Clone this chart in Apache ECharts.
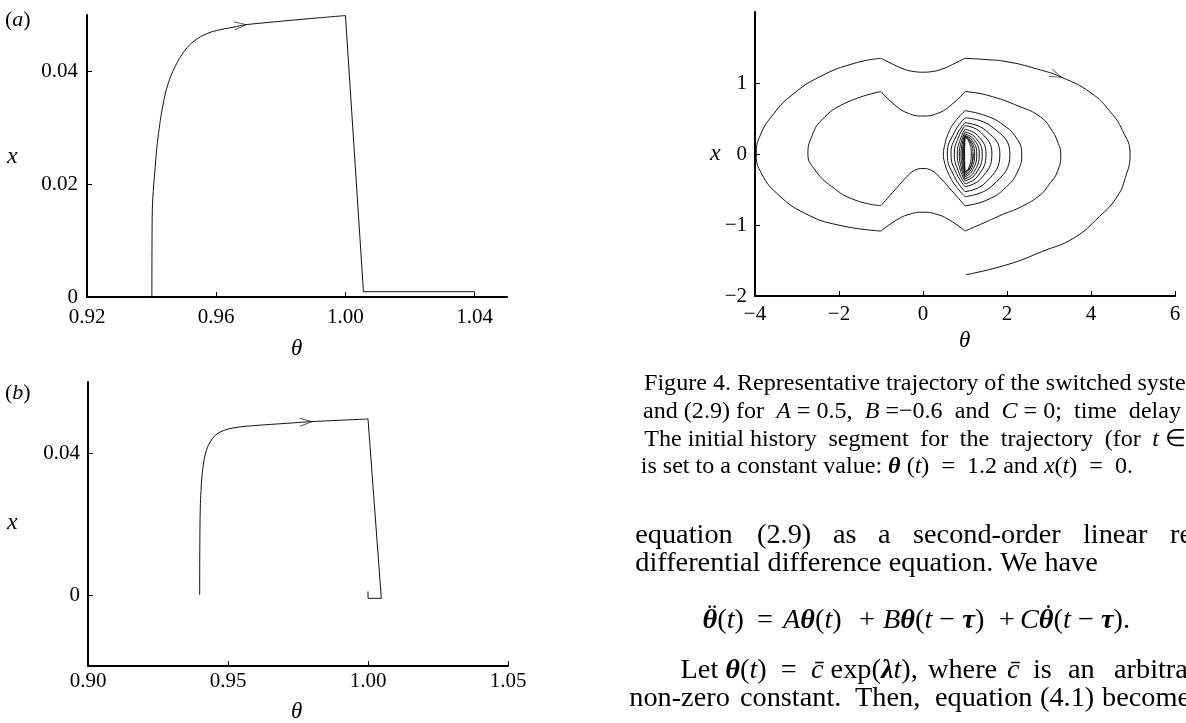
<!DOCTYPE html>
<html>
<head>
<meta charset="utf-8">
<style>
html, body { margin: 0; padding: 0; background: #fff; }
#main { width: 1186px; height: 723px; }
</style>
<script src="https://cdn.jsdelivr.net/npm/echarts@6/dist/echarts.min.js"></script>
</head>
<body>
<div id="main"></div>
<script>
// ---- panel (a) ----
var thetaA  = [0.94008, 0.94018, 0.94111, 0.94214, 0.94378, 0.94512, 0.94718, 0.95027, 0.95336, 0.95696, 0.96005, 0.96520, 0.96932, 1.00000];
var xA      = [0, 0.01425, 0.02309, 0.02898, 0.03487, 0.03782, 0.04076, 0.04370, 0.04547, 0.04665, 0.04724, 0.04783, 0.04830, 0.04990];
var thetaA2 = [1.00000, 1.00556, 1.04000];
var xA2     = [0.04990, 0.00094, 0.00094];
var arrowA  = [0.96932, 0.04830];

// ---- panel (b) ----
var thetaB  = [0.93988, 0.94000, 0.94036, 0.94107, 0.94226, 0.94393, 0.94607, 0.94905, 0.95321, 0.95917, 0.96750, 0.98000, 1.00000];
var xB      = [0, 0.02000, 0.02939, 0.03596, 0.04066, 0.04347, 0.04535, 0.04648, 0.04723, 0.04770, 0.04817, 0.04883, 0.04958];
var thetaB2 = [1.00000, 1.00476, 1.00000, 1.00000];
var xB2     = [0.04958, -0.00094, -0.00094, 0.00103];
var arrowB  = [0.98000, 0.04883];

// ---- figure 4 trajectory, pieces between switching points [theta, x] ----
var startArc = [[1.20, 0], [1.17, -0.12], [1.10, -0.21], [1, -0.25]];
var lensLeft1 = [[1, -0.25], [0.994, -0.15], [0.99, 0], [0.994, 0.144], [1, 0.24]];
var lensRight1 = [[1, 0.24], [1.09, 0.18], [1.15, 0], [1.09, -0.195], [1, -0.26]];
var lensLeft2 = [[1, -0.26], [0.985, -0.156], [0.975, 0], [0.985, 0.147], [1, 0.245]];
var lensRight2 = [[1, 0.245], [1.114, 0.184], [1.19, 0], [1.114, -0.21], [1, -0.28]];
var lensLeft3 = [[1, -0.28], [0.976, -0.168], [0.96, 0], [0.976, 0.15], [1, 0.25]];
var lensRight3 = [[1, 0.25], [1.138, 0.188], [1.23, 0], [1.138, -0.225], [1, -0.30]];
var lensLeft4 = [[1, -0.30], [0.962, -0.18], [0.937, 0], [0.962, 0.156], [1, 0.26]];
var lensRight4 = [[1, 0.26], [1.168, 0.195], [1.28, 0], [1.168, -0.24], [1, -0.32]];
var lensLeft5 = [[1, -0.32], [0.943, -0.192], [0.905, 0], [0.943, 0.168], [1, 0.28]];
var lensRight5 = [[1, 0.28], [1.204, 0.21], [1.34, 0], [1.204, -0.263], [1, -0.35]];
var lensLeft6 = [[1, -0.35], [0.919, -0.21], [0.865, 0], [0.919, 0.186], [1, 0.31]];
var lensRight6 = [[1, 0.31], [1.246, 0.233], [1.41, 0], [1.246, -0.285], [1, -0.38]];
var lensLeft7 = [[1, -0.38], [0.89, -0.228], [0.817, 0], [0.89, 0.208], [1, 0.347]];
var lensRight7 = [[1, 0.347], [1.30, 0.26], [1.50, 0], [1.30, -0.315], [1, -0.42]];
var lensLeft8 = [[1, -0.42], [0.848, -0.252], [0.746, 0], [0.848, 0.24], [1, 0.40]];
var lensRight8 = [[1, 0.40], [1.384, 0.30], [1.64, 0], [1.384, -0.345], [1, -0.46]];
var lensLeft9 = [[1, -0.46], [0.80, -0.276], [0.667, 0], [0.80, 0.264], [1, 0.44]];
var lensRight9 = [[1, 0.44], [1.498, 0.33], [1.83, 0], [1.498, -0.40], [1, -0.53]];
var lensLeft10 = [[1, -0.53], [0.747, -0.318], [0.579, 0], [0.747, 0.306], [1, 0.51]];
var lensRight10 = [[1, 0.51], [1.642, 0.383], [2.07, 0], [1.642, -0.45], [1, -0.60]];
var lensLeft11 = [[1, -0.60], [0.762, -0.437], [0.603, -0.272], [0.508, -0.108], [0.484, 0], [0.508, 0.103], [0.603, 0.291], [0.762, 0.455], [1, 0.61]];
var lensRight11 = [[1, 0.61], [1.516, 0.535], [1.913, 0.408], [2.23, 0.22], [2.35, 0], [2.27, -0.225], [1.99, -0.46], [1.516, -0.65], [1, -0.728]];
var midBottom = [[1, -0.728], [0.67, -0.507], [0.4, -0.33], [0.2, -0.23], [0, -0.205], [-0.2, -0.23], [-0.4, -0.33], [-0.67, -0.507], [-1, -0.728]];
var midLeft = [[-1, -0.728], [-1.62, -0.648], [-2.17, -0.46], [-2.57, -0.225], [-2.74, 0], [-2.65, 0.244], [-2.41, 0.479], [-1.86, 0.714], [-1, 0.88]];
var midTop = [[-1, 0.88], [-0.67, 0.69], [-0.35, 0.573], [0, 0.535], [0.35, 0.573], [0.67, 0.69], [1, 0.878]];
var midRight = [[1, 0.878], [1.52, 0.83], [2.31, 0.666], [2.79, 0.525], [3.05, 0.35], [3.22, 0.15], [3.28, 0], [3.2, -0.25], [3.0, -0.43], [2.79, -0.577], [2.35, -0.74], [1.9, -0.85], [1.45, -0.97], [1, -1.085]];
var outerBottom = [[1, -1.085], [0.63, -0.93], [0.3, -0.845], [0, -0.82], [-0.3, -0.845], [-0.63, -0.93], [-1, -1.085]];
var outerLeft = [[-1, -1.085], [-2.02, -1.0], [-2.81, -0.836], [-3.45, -0.57], [-3.84, -0.28], [-3.97, 0], [-3.87, 0.27], [-3.55, 0.57], [-3.12, 0.83], [-2.45, 1.09], [-1.62, 1.28], [-1, 1.348]];
var outerTop = [[-1, 1.348], [-0.7, 1.26], [-0.45, 1.195], [-0.2, 1.16], [0, 1.152], [0.2, 1.16], [0.45, 1.195], [0.7, 1.26], [1, 1.348]];
var outerRight = [[1, 1.348], [1.5, 1.33], [2.0, 1.30], [2.7, 1.2], [3.3, 1.08], [4.0, 0.86], [4.45, 0.6], [4.75, 0.33], [4.93, 0], [4.82, -0.33], [4.6, -0.62], [4.2, -0.88], [3.6, -1.18], [2.85, -1.37], [2.0, -1.56], [1.02, -1.70]];
var arrowC = [3.30, 1.08];

var trajectory = [startArc,
  lensLeft1, lensRight1, lensLeft2, lensRight2, lensLeft3, lensRight3, lensLeft4, lensRight4,
  lensLeft5, lensRight5, lensLeft6, lensRight6, lensLeft7, lensRight7, lensLeft8, lensRight8,
  lensLeft9, lensRight9, lensLeft10, lensRight10, lensLeft11, lensRight11,
  midBottom, midLeft, midTop, midRight, outerBottom, outerLeft, outerTop, outerRight];

// tick labels
var ticksAx = [0.92, 0.96, 1.00, 1.04];
var ticksAy = [0, 0.02, 0.04];
var ticksBx = [0.90, 0.95, 1.00, 1.05];
var ticksBy = [0, 0.04];
var ticksCx = [-4, -2, 0, 2, 4, 6];
var ticksCy = [-2, -1, 0, 1];

function zip(a, b) { return a.map(function (v, i) { return [v, b[i]]; }); }

// ---- text helpers (runs: [text, 'r' | 'i' | 'b', accent]) ----
var FAMILY = '"Liberation Serif", "Times New Roman", serif';
var mctx = document.createElement('canvas').getContext('2d');
function cssFont(st, size) {
  var pre = st === 'i' ? 'italic ' : st === 'b' ? 'italic bold ' : '';
  return pre + size + 'px ' + FAMILY;
}
function runsWidth(runs, size) {
  var w = 0;
  runs.forEach(function (r) {
    mctx.font = cssFont(r[1], size);
    w += mctx.measureText(r[0]).width;
  });
  return w;
}
var texts = [];
function textEl(str, st, x, y, size) {
  return {
    type: 'text', x: x, y: y, silent: true, z: 10,
    style: {
      text: str, fill: '#000', fontFamily: FAMILY, fontSize: size,
      fontStyle: st === 'r' ? 'normal' : 'italic',
      fontWeight: st === 'b' ? 'bold' : 'normal',
      align: 'left', verticalAlign: 'middle', textAlign: 'left', textVerticalAlign: 'middle'
    }
  };
}
function placeRuns(runs, x, y, size, align) {
  var total = runsWidth(runs, size);
  if (align === 'right') x -= total;
  else if (align === 'center') x -= total / 2;
  runs.forEach(function (r) {
    mctx.font = cssFont(r[1], size);
    var w = mctx.measureText(r[0]).width;
    texts.push(textEl(r[0], r[1], x, y, size));
    if (r[2]) {
      mctx.font = cssFont('r', size);
      var aw = mctx.measureText(r[2]).width;
      texts.push(textEl(r[2], 'r', x + w / 2 - aw / 2 + size * 0.08, y - size * 0.2, size));
    }
    x += w;
  });
  return x;
}
// spread word groups evenly between x0 and x1
function justify(groups, x0, x1, y, size) {
  var total = 0;
  groups.forEach(function (g) { total += runsWidth(g, size); });
  var gap = (x1 - x0 - total) / (groups.length - 1);
  var x = x0;
  groups.forEach(function (g) { x = placeRuns(g, x, y, size, 'left') + gap; });
}

// caption of figure 4
var EQ = '\u2002=\u2002';
var capSize = 24 * 449 / runsWidth([['Representative trajectory of the switched syste', 'r']], 24);

placeRuns([['Figure 4. Representative trajectory of the switched system (2.8)', 'r']],
  737 - runsWidth([['Figure 4. ', 'r']], capSize), 384, capSize, 'left');

placeRuns([['and (2.9) ', 'r']], 736, 412, capSize, 'right');
justify([[['for', 'r']], [['A', 'i'], [' = 0.5,', 'r']], [['B', 'i'], [' =\u22120.6', 'r']], [['and', 'r']],
  [['C', 'i'], [' = 0;', 'r']], [['time', 'r']], [['delay', 'r']]], 736, 1181, 412, capSize);

placeRuns([['The initial ', 'r']], 750, 440, capSize, 'right');
justify([[['history', 'r']], [['segment', 'r']], [['for', 'r']], [['the', 'r']], [['trajectory', 'r']],
  [['(for', 'r']], [['t', 'i'], [' \u2208', 'r']]], 750, 1186, 440, capSize);

var capLine4 = [['is set to a ', 'r'], ['constant value: ', 'r'], ['\u03b8', 'b'], [' (', 'r'], ['t', 'i'], [')' + EQ + '1.2 and ', 'r'], ['x', 'i'], ['(', 'r'], ['t', 'i'], [')' + EQ + '0.', 'r']];
placeRuns(capLine4, 737 - runsWidth(capLine4.slice(0, 1), capSize), 467, capSize, 'left');

// body text
var bodySize = 28 * 358 / runsWidth([['al difference equation. We have', 'r']], 28);
var margin = 740 - runsWidth([['differenti', 'r']], bodySize);

var line5Words = ['equation', '(2.9)', 'as', 'a', 'second-order', 'linear', 'retarded'];
var line5X = [margin, 757, 833, 878, 913, 1083, 1170];
line5Words.forEach(function (w, i) { placeRuns([[w, 'r']], line5X[i], 536, bodySize, 'left'); });

placeRuns([['differential difference equation. We have', 'r']], margin, 564, bodySize, 'left');

// displayed equation, pieces at the positions read from the page
var eqY = 621;
placeRuns([['\u03b8', 'b', '\u00a8'], ['(', 'r'], ['t', 'i'], [')', 'r']], 744, eqY, bodySize, 'right');
placeRuns([['=', 'r']], 765, eqY, bodySize, 'center');
placeRuns([['A', 'i'], ['\u03b8', 'b'], ['(', 'r'], ['t', 'i'], [')', 'r']], 783, eqY, bodySize, 'left');
placeRuns([['+', 'r']], 867, eqY, bodySize, 'center');
placeRuns([['B', 'i'], ['\u03b8', 'b'], ['(', 'r'], ['t', 'i'], [' \u2212 ', 'r'], ['\u03c4', 'b'], [')', 'r']], 883, eqY, bodySize, 'left');
placeRuns([['+', 'r']], 1007, eqY, bodySize, 'center');
placeRuns([['C', 'i'], ['\u03b8', 'b', '\u02d9'], ['(', 'r'], ['t', 'i'], [' \u2212 ', 'r'], ['\u03c4', 'b'], [').', 'r']], 1020, eqY, bodySize, 'left');

var line8Lead = [['Let ', 'r'], ['\u03b8', 'b'], ['(', 'r'], ['t', 'i'], [')' + EQ, 'r'], ['c\u0304', 'i'], [' exp(', 'r'], ['\u03bb', 'b'], ['t', 'i'], ['),', 'r']];
placeRuns(line8Lead, 740 - runsWidth(line8Lead.slice(0, 2), bodySize), 671, bodySize, 'left');
var line8Words = [[['where', 'r']], [['c\u0304', 'i']], [['is', 'r']], [['an', 'r']], [['arbitrary', 'r']]];
var line8X = [928, 1007, 1033, 1068, 1114];
line8Words.forEach(function (w, i) { placeRuns(w, line8X[i], 671, bodySize, 'left'); });

var line9Words = ['non-zero', 'constant.', 'Then,', 'equation', '(4.1)', 'becomes'];
var line9X = [margin - 6, 740, 855, 935, 1040, 1102];
line9Words.forEach(function (w, i) { placeRuns([[w, 'r']], line9X[i], 699, bodySize, 'left'); });

// panel letters and axis names
placeRuns([['(', 'r'], ['a', 'i'], [')', 'r']], 5, 20, 22, 'left');
placeRuns([['(', 'r'], ['b', 'i'], [')', 'r']], 5, 393, 22, 'left');
placeRuns([['x', 'i']], 7, 157, 24, 'left');
placeRuns([['x', 'i']], 7, 523, 24, 'left');
placeRuns([['x', 'i']], 710, 154, 24, 'left');
placeRuns([['\u03b8', 'i']], 291, 349, 23, 'left');
placeRuns([['\u03b8', 'i']], 291, 712, 23, 'left');
placeRuns([['\u03b8', 'i']], 959, 341, 23, 'left');

function fmt2(v) { return v === 0 ? '0' : v.toFixed(2); }
function fmtInt(v) { return v < 0 ? '\u2212' + (-v) : String(v); }

function axis(grid, min, max, ticks, fmt, labelMargin) {
  return {
    type: 'value', gridIndex: grid, min: min, max: max,
    axisLine: { show: true, onZero: false, lineStyle: { color: '#000', width: 2 } },
    axisTick: { show: true, inside: true, length: 5, customValues: ticks, lineStyle: { color: '#000', width: 1 } },
    axisLabel: { customValues: ticks, formatter: fmt, margin: labelMargin, color: '#000', fontFamily: FAMILY, fontSize: 21 },
    splitLine: { show: false }
  };
}

var lineStyle = { color: '#111', width: 1 };
var series = [
  { type: 'line', xAxisIndex: 0, yAxisIndex: 0, data: zip(thetaA, xA), smooth: 0.4, symbol: 'none', lineStyle: lineStyle },
  { type: 'line', xAxisIndex: 0, yAxisIndex: 0, data: zip(thetaA2, xA2), symbol: 'none', lineStyle: lineStyle },
  { type: 'line', xAxisIndex: 1, yAxisIndex: 1, data: zip(thetaB, xB), smooth: 0.4, symbol: 'none', lineStyle: lineStyle },
  { type: 'line', xAxisIndex: 1, yAxisIndex: 1, data: zip(thetaB2, xB2), symbol: 'none', lineStyle: lineStyle }
];
trajectory.forEach(function (seg) {
  series.push({ type: 'line', xAxisIndex: 2, yAxisIndex: 2, data: seg, smooth: 0.5, symbol: 'none', lineStyle: lineStyle, clip: false });
});
var arrowPath = 'path://M-12,-4L0,0L-12,4M12,0';
function arrow(ax, pt, rot) {
  return {
    type: 'scatter', xAxisIndex: ax, yAxisIndex: ax, data: [pt],
    symbol: arrowPath, symbolSize: [24, 8], symbolRotate: rot,
    itemStyle: { color: 'rgba(0,0,0,0)', borderColor: '#111', borderWidth: 1 }, z: 5
  };
}
series.push(arrow(0, arrowA, 6));
series.push(arrow(1, arrowB, 3));
series.push(arrow(2, arrowC, -22));

var chart = echarts.init(document.getElementById('main'), null, { renderer: 'canvas' });
chart.setOption({
  animation: false,
  backgroundColor: '#fff',
  grid: [
    { left: 87, top: 15, width: 420, height: 282, outerBoundsMode: 'none' },
    { left: 88, top: 382, width: 420, height: 284, outerBoundsMode: 'none' },
    { left: 755, top: 12, width: 420, height: 284, outerBoundsMode: 'none' }
  ],
  xAxis: [
    axis(0, 0.92, 1.05, ticksAx, fmt2, 10),
    axis(1, 0.90, 1.05, ticksBx, fmt2, 5),
    axis(2, -4, 6, ticksCx, fmtInt, 8)
  ],
  yAxis: [
    axis(0, 0, 0.05, ticksAy, fmt2, 9),
    axis(1, -0.02, 0.06, ticksBy, fmt2, 8),
    axis(2, -2, 2, ticksCy, fmtInt, 8)
  ],
  series: series,
  graphic: { elements: texts }
});
</script>
</body>
</html>
